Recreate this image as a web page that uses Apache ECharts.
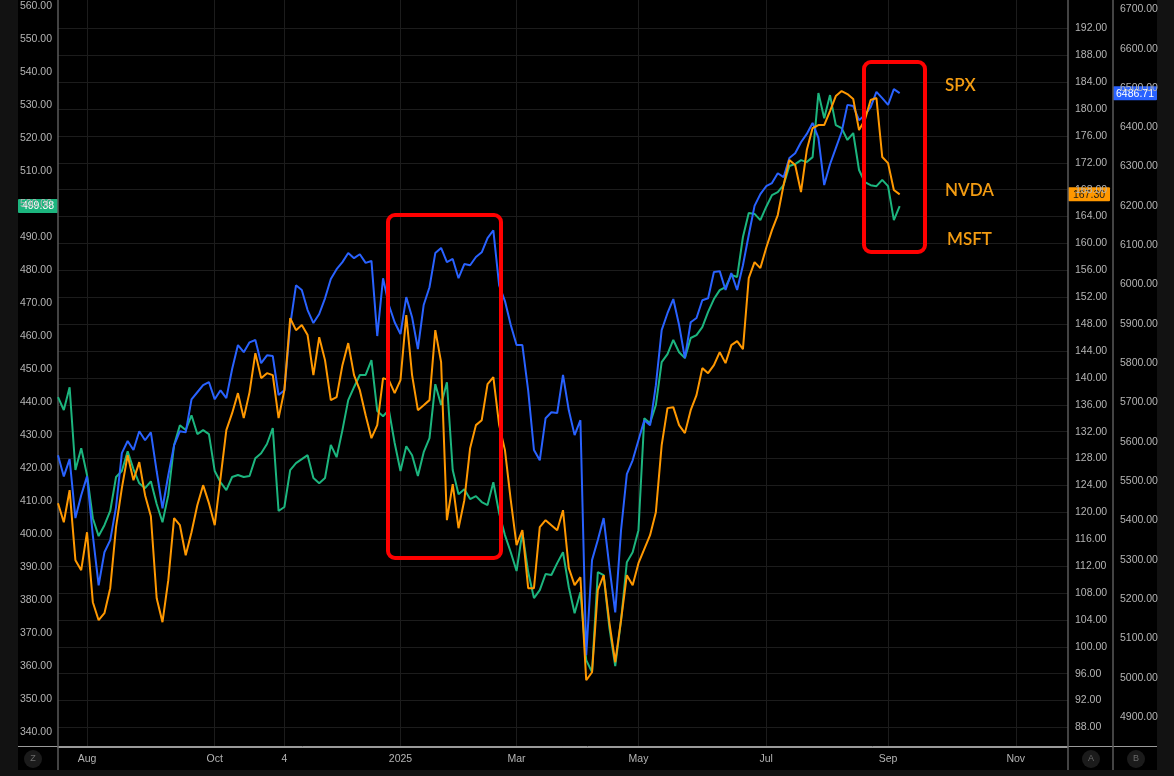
<!DOCTYPE html>
<html>
<head>
<meta charset="utf-8">
<script src="https://cdn.jsdelivr.net/npm/echarts@6/dist/echarts.min.js"></script>
<style>
  html, body { margin: 0; padding: 0; background: #121212; overflow: hidden; }
  #panel { position: absolute; left: 18px; top: 0; width: 1139px; height: 770px; background: #000; }
  #chart { position: absolute; left: 0; top: 0; width: 1174px; height: 776px; }
</style>
</head>
<body>
<div id="panel"></div>
<div id="chart"></div>
<script>
// one point every two trading days, Jul 2024 -> Sep 2025
const spx = [
  5566, 5512, 5556, 5406, 5464, 5512, 5362, 5235, 5319, 5350,
  5434, 5571, 5602, 5579, 5627, 5604, 5624, 5525, 5431, 5515,
  5591, 5627, 5624, 5708, 5726, 5744, 5752, 5708, 5731, 5711,
  5785, 5846, 5828, 5853, 5859, 5800, 5820, 5818, 5719, 5731,
  5897, 5998, 5986, 5935, 5902, 5925, 5965, 6014, 6039, 6057,
  6080, 6067, 6077, 6055, 6060, 5869, 6016, 5948, 5904, 5874,
  5968, 5917, 5836, 5948, 5993, 6080, 6093, 6057, 6065, 6016,
  6052, 6049, 6070, 6082, 6118, 6138, 5998, 5958, 5897, 5846,
  5846, 5731, 5579, 5553, 5660, 5675, 5673, 5770, 5680, 5617,
  5655, 5057, 5299, 5350, 5406, 5281, 5166, 5375, 5518, 5553,
  5604, 5655, 5642, 5744, 5884, 5927, 5963, 5897, 5813, 5904,
  5915, 5960, 5965, 6032, 6034, 5986, 6029, 5986, 6049, 6126,
  6200, 6230, 6250, 6258, 6283, 6273, 6322, 6334, 6362, 6383,
  6411, 6373, 6253, 6306, 6347, 6388, 6457, 6454, 6418, 6431,
  6451, 6490, 6474, 6457, 6497, 6486.71
];
const nvda = [
  121.36, 118.53, 123.29, 112.88, 111.39, 117.04, 106.63, 103.95, 104.99, 108.71,
  117.79, 123.59, 128.50, 124.78, 127.46, 122.55, 119.42, 107.22, 103.65, 109.90,
  119.13, 118.08, 113.62, 117.04, 121.06, 124.04, 121.36, 118.08, 125.08, 132.22,
  134.75, 137.73, 134.01, 137.88, 143.68, 139.96, 140.70, 140.41, 134.01, 138.17,
  148.89, 147.10, 147.85, 146.36, 140.41, 146.06, 142.64, 136.69, 137.13, 141.89,
  145.17, 140.41, 138.17, 134.45, 131.03, 132.97, 139.96, 139.66, 137.73, 139.66,
  149.33, 140.41, 135.20, 135.94, 136.69, 147.10, 142.34, 118.83, 124.19, 117.64,
  121.80, 129.54, 132.97, 133.71, 139.07, 140.11, 132.97, 129.25, 121.80, 115.11,
  117.34, 108.71, 108.71, 117.79, 118.83, 118.08, 117.34, 120.32, 111.69, 109.16,
  110.35, 95.02, 96.21, 108.41, 110.64, 103.50, 97.70, 103.95, 110.64, 109.16,
  112.43, 114.51, 116.60, 120.02, 129.99, 135.50, 135.64, 132.97, 131.78, 135.20,
  137.43, 141.45, 140.70, 141.89, 143.83, 142.19, 144.87, 145.47, 144.28, 154.84,
  157.22, 156.33, 159.31, 161.98, 164.22, 168.68, 172.40, 171.66, 167.64, 173.89,
  177.16, 177.61, 177.61, 179.69, 181.92, 182.67, 182.22, 181.48, 176.86, 178.35,
  181.33, 181.63, 172.85, 171.95, 167.94, 167.30
];
const msft = [
  441.5, 437.6, 444.5, 419.4, 426.0, 417.9, 404.8, 399.4, 402.7, 407.0,
  417.3, 419.1, 425.1, 419.7, 415.4, 413.9, 416.0, 409.1, 403.6, 411.8,
  427.0, 433.0, 431.5, 436.0, 430.3, 431.5, 430.3, 419.1, 415.7, 413.3,
  417.3, 417.9, 417.3, 417.6, 423.0, 424.5, 427.3, 432.1, 407.0, 408.2,
  419.4, 421.5, 422.7, 423.9, 417.0, 415.4, 417.0, 427.0, 423.3, 431.5,
  440.6, 444.5, 448.2, 448.2, 452.7, 437.3, 435.7, 437.6, 427.6, 419.1,
  426.6, 423.9, 417.6, 424.8, 429.1, 445.4, 439.1, 446.0, 419.4, 412.1,
  413.6, 410.6, 411.5, 409.7, 408.8, 415.7, 406.3, 399.7, 394.5, 388.8,
  400.6, 388.5, 380.6, 383.0, 387.9, 387.6, 391.2, 394.5, 383.9, 376.0,
  382.4, 361.8, 358.2, 388.5, 387.6, 371.5, 360.0, 373.9, 391.5, 394.5,
  401.2, 435.1, 433.6, 439.1, 452.1, 454.5, 458.8, 455.1, 453.3, 459.4,
  460.3, 462.7, 467.3, 471.2, 473.9, 474.8, 478.5, 477.9, 490.0, 497.3,
  497.0, 495.1, 499.1, 502.7, 503.6, 505.7, 511.5, 512.1, 513.3, 512.7,
  514.2, 533.6, 526.0, 533.0, 523.9, 523.0, 519.4, 521.5, 510.3, 506.6,
  505.7, 505.4, 507.3, 505.4, 495.1, 499.38
];

const msftTicks = [340, 350, 360, 370, 380, 390, 400, 410, 420, 430, 440, 450,
  460, 470, 480, 490, 500, 510, 520, 530, 540, 550, 560];
const nvdaTicks = [88, 92, 96, 100, 104, 108, 112, 116, 120, 124, 128, 132, 136,
  140, 144, 148, 152, 156, 160, 164, 168, 172, 176, 180, 184, 188, 192];
const spxTicks = [4900, 5000, 5100, 5200, 5300, 5400, 5500, 5600, 5700, 5800,
  5900, 6000, 6100, 6200, 6300, 6400, 6500, 6600, 6700];

const slotCount = 175;
const xTickIndex = [5, 27, 39, 59, 79, 100, 122, 143, 165];
const xTickText = ['Aug', 'Oct', '4', '2025', 'Mar', 'May', 'Jul', 'Sep', 'Nov'];

const labels = ['SPX', 'NVDA', 'MSFT'];

const slots = Array.from({ length: slotCount }, (_, i) => {
  const k = xTickIndex.indexOf(i)
  return k >= 0 ? xTickText[k] : ''
})
const isTick = (i) => xTickIndex.includes(i)

const FONT = 'Liberation Sans, Arial, sans-serif'
const labelColor = '#b4b4b4'
const gridColor = '#1c1c1c'
const axisColor = '#5a5a5a'
const BLUE = '#2962ff'
const ORANGE = '#ff9800'
const GREEN = '#1cb57e'
const NOTE = '#f39c12'

const chart = echarts.init(document.getElementById('chart'))

const yBase = {
  type: 'value',
  scale: true,
  axisLine: { show: true, lineStyle: { color: axisColor, width: 1.5 } },
  axisTick: { show: false },
  splitLine: { show: false },
  axisLabel: {
    color: labelColor, fontFamily: FONT, fontSize: 10.5,
    formatter: (v) => v.toFixed(2)
  }
}

chart.setOption({
  animation: false,
  backgroundColor: 'transparent',
  grid: { left: 58, right: 106, top: 0, bottom: 29, containLabel: false },
  xAxis: {
    type: 'category',
    data: slots,
    boundaryGap: false,
    axisLine: { show: true, lineStyle: { color: '#9a9a9a' } },
    axisTick: { show: false },
    axisLabel: {
      interval: (i) => isTick(i),
      color: labelColor, fontFamily: FONT, fontSize: 10.5, margin: 7
    },
    splitLine: { show: true, interval: (i) => isTick(i), lineStyle: { color: gridColor } }
  },
  yAxis: [
    Object.assign({}, yBase, {
      position: 'left', min: 335.5, max: 561.8,
      axisTick: { show: false, customValues: msftTicks },
      axisLabel: Object.assign({}, yBase.axisLabel, { customValues: msftTicks, margin: 6 })
    }),
    Object.assign({}, yBase, {
      position: 'right', min: 85.09, max: 196.21,
      axisTick: { show: false, customValues: nvdaTicks },
      axisLabel: Object.assign({}, yBase.axisLabel, { customValues: nvdaTicks, margin: 7 }),
      splitLine: { show: true, lineStyle: { color: gridColor } }
    }),
    Object.assign({}, yBase, {
      position: 'right', offset: 45, min: 4823.7, max: 6723.7,
      axisTick: { show: false, customValues: spxTicks },
      axisLabel: Object.assign({}, yBase.axisLabel, { customValues: spxTicks, margin: 7 })
    })
  ],
  series: [
    { name: 'MSFT', type: 'line', yAxisIndex: 0, data: msft, showSymbol: false,
      lineStyle: { color: GREEN, width: 2 }, itemStyle: { color: GREEN }, z: 3 },
    { name: 'SPX', type: 'line', yAxisIndex: 2, data: spx, showSymbol: false,
      lineStyle: { color: BLUE, width: 2 }, itemStyle: { color: BLUE }, z: 4 },
    { name: 'NVDA', type: 'line', yAxisIndex: 1, data: nvda, showSymbol: false,
      lineStyle: { color: ORANGE, width: 2 }, itemStyle: { color: ORANGE }, z: 5 }
  ]
})

// price tags on the axes, placed through the axis scales
const last = (a) => a[a.length - 1]
const yMsft = chart.convertToPixel({ yAxisIndex: 0 }, last(msft))
const yNvda = chart.convertToPixel({ yAxisIndex: 1 }, last(nvda))
const ySpx = chart.convertToPixel({ yAxisIndex: 2 }, last(spx))

const tag = (x, w, y, bg, fg, text) => ({
  type: 'group', z: 100,
  children: [
    { type: 'rect', shape: { x: x, y: y - 7, width: w, height: 14, r: 1 }, style: { fill: bg } },
    { type: 'text', style: { text: text, x: x + w / 2, y: y + 0.5, fill: fg, font: '10.5px ' + FONT,
      align: 'center', verticalAlign: 'middle' } }
  ]
})

const roundBtn = (cx, letter) => ({
  type: 'group', z: 100,
  children: [
    { type: 'circle', shape: { cx: cx, cy: 759, r: 9 }, style: { fill: '#1b1b1b' } },
    { type: 'text', style: { text: letter, x: cx, y: 759, fill: '#6a6a6a', font: '9px ' + FONT,
      align: 'center', verticalAlign: 'middle' } }
  ]
})

const note = (x, y, text) => ({
  type: 'text', z: 100,
  style: { text: text, x: x, y: y, fill: NOTE, font: '600 17px Lato, Liberation Sans, sans-serif',
    align: 'left', verticalAlign: 'middle' }
})

const box = (x, y, w, h) => ({
  type: 'rect', z: 90,
  shape: { x: x, y: y, width: w, height: h, r: 7 },
  style: { fill: 'none', stroke: '#ff0000', lineWidth: 4 }
})

chart.setOption({
  graphic: [
    { type: 'line', z: 50, shape: { x1: 18, y1: 746.5, x2: 1157, y2: 746.5 }, style: { stroke: '#9a9a9a', lineWidth: 1 } },
    { type: 'line', z: 50, shape: { x1: 58, y1: 746, x2: 58, y2: 770 }, style: { stroke: axisColor, lineWidth: 1.5 } },
    { type: 'line', z: 50, shape: { x1: 1068, y1: 746, x2: 1068, y2: 770 }, style: { stroke: axisColor, lineWidth: 1.5 } },
    { type: 'line', z: 50, shape: { x1: 1113, y1: 746, x2: 1113, y2: 770 }, style: { stroke: axisColor, lineWidth: 1.5 } },
    roundBtn(33, 'Z'), roundBtn(1091, 'A'), roundBtn(1136, 'B'),
    box(388, 215, 113, 343),
    box(864, 62, 61, 190),
    note(945, 86, labels[0]),
    note(945, 191, labels[1]),
    note(947, 240, labels[2]),
    tag(18, 40, yMsft, GREEN, '#ffffff', last(msft).toFixed(2)),
    tag(1068, 42, yNvda, ORANGE, '#1a1a1a', last(nvda).toFixed(2)),
    tag(1113, 44, ySpx, BLUE, '#ffffff', last(spx).toFixed(2))
  ]
})
</script>
</body>
</html>
